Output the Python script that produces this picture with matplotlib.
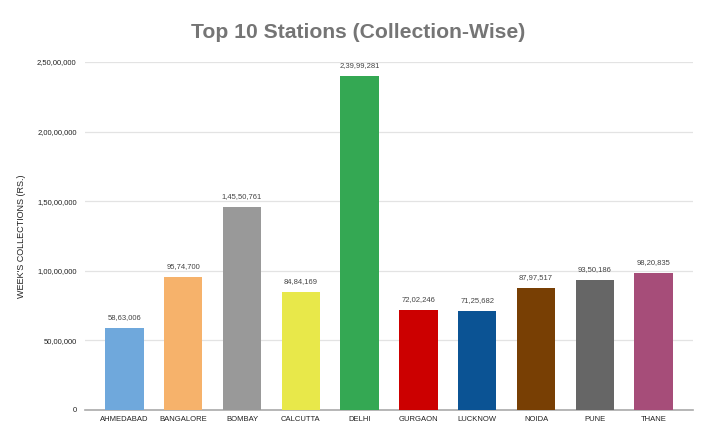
import numpy as np
import matplotlib
matplotlib.use('Agg')
import matplotlib.pyplot as plt

stations = ["AHMEDABAD", "BANGALORE", "BOMBAY", "CALCUTTA", "DELHI",
            "GURGAON", "LUCKNOW", "NOIDA", "PUNE", "THANE"]
collections = [5863006, 9574700, 14550761, 8484169, 23999281,
               7202246, 7125682, 8797517, 9350186, 9820835]
bar_colors = ["#6fa8dc", "#f6b26b", "#999999", "#e8e84a", "#34a853",
              "#cc0000", "#0b5394", "#783f04", "#666666", "#a64d79"]
y_ticks = [0, 5000000, 10000000, 15000000, 20000000, 25000000]


def indian_fmt(n):
    s = str(int(n))
    if len(s) <= 3:
        return s
    last3 = s[-3:]
    rest = s[:-3]
    groups = []
    while len(rest) > 2:
        groups.insert(0, rest[-2:])
        rest = rest[:-2]
    if rest:
        groups.insert(0, rest)
    return ",".join(groups + [last3])


plt.rcParams['font.family'] = ['Liberation Sans', 'DejaVu Sans']

fig = plt.figure(figsize=(7.17, 4.42), dpi=100)
ax = fig.add_axes([85 / 717, 32 / 442, 608 / 717, 348 / 442])

x = np.arange(len(stations))
ax.bar(x, collections, width=0.65, color=bar_colors, zorder=3)

for xi, v in zip(x, collections):
    ax.text(xi, v + 500000, indian_fmt(v), ha='center', va='bottom',
            fontsize=5.5, color='#444444')

ax.set_xlim(-0.67, 9.67)
ax.set_ylim(0, 25000000)
ax.set_xticks(x)
ax.set_xticklabels(stations, fontsize=5.5, color='#222222')
ax.set_yticks(y_ticks)
ax.set_yticklabels([indian_fmt(t) for t in y_ticks], fontsize=5.5, color='#222222')
ax.tick_params(length=0, pad=6)
ax.tick_params(axis='x', pad=4)

ax.grid(axis='y', color='#e3e3e3', linewidth=0.9, zorder=0)
for side in ['top', 'right', 'left']:
    ax.spines[side].set_visible(False)
ax.spines['bottom'].set_color('#aaaaaa')
ax.spines['bottom'].set_linewidth(1.2)

ax.set_ylabel("WEEK'S COLLECTIONS (RS.)", fontsize=6.5, color='#222222', labelpad=8)

fig.text(0.5, 1 - 33 / 442, "Top 10 Stations (Collection-Wise)", ha='center', va='center',
         fontsize=15.2, fontweight='bold', color='#757575')

fig.savefig("out.png", dpi=100)
